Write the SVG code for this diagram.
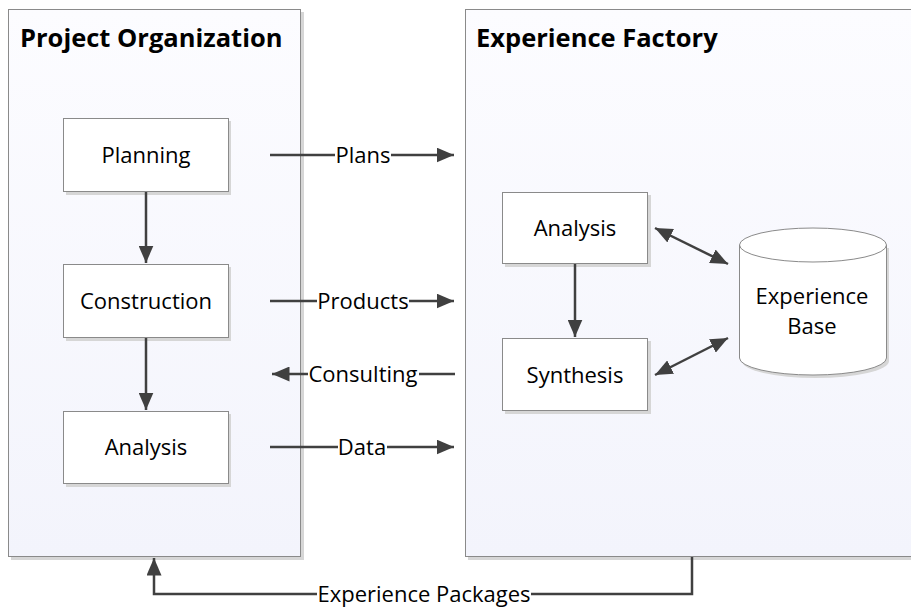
<svg xmlns="http://www.w3.org/2000/svg" width="911" height="607" viewBox="0 0 911 607">
<style>
.panel{fill:url(#pg);stroke:#8a8a8a;stroke-width:1}
.shadow{fill:#d6d6d6}
.box{fill:#ffffff;stroke:#8a8a8a;stroke-width:1}
.t{font-family:"Open Sans","Liberation Sans",sans-serif;font-size:22px;fill:#000;text-anchor:middle}
.title{font-family:"Open Sans","Liberation Sans",sans-serif;font-size:25.5px;font-weight:bold;fill:#000}
.c{stroke:#404040;stroke-width:2.5;fill:none}
.lbl{font-family:"Open Sans","Liberation Sans",sans-serif;font-size:22px;fill:#000;text-anchor:middle}
</style>
<defs>
<linearGradient id="pg" x1="0" y1="0" x2="0" y2="1">
<stop offset="0" stop-color="#fcfcff"/>
<stop offset="1" stop-color="#f3f4fc"/>
</linearGradient>
<marker id="ah" viewBox="0 0 10 10" refX="10" refY="5" markerWidth="7" markerHeight="6" markerUnits="strokeWidth" orient="auto-start-reverse" preserveAspectRatio="none">
<path d="M0,0 L10,5 L0,10 z" fill="#404040"/>
</marker>
</defs>
<rect width="911" height="607" fill="#ffffff"/>
<g id="project-organization">
<rect class="shadow" x="11" y="12" width="293" height="548"/>
<rect class="panel" x="8.5" y="9.5" width="292" height="547"/>
<text class="title" x="20" y="47">Project Organization</text>
</g>
<g id="experience-factory">
<rect class="shadow" x="468" y="12" width="450" height="548"/>
<rect class="panel" x="465.5" y="9.5" width="450" height="547"/>
<text class="title" x="476" y="47">Experience Factory</text>
</g>
<g id="planning">
<rect class="shadow" x="66" y="121" width="165" height="74"/>
<rect class="box" x="63.5" y="118.5" width="165" height="73"/>
<text class="t" x="146" y="163">Planning</text>
</g>
<g id="construction">
<rect class="shadow" x="66" y="267" width="165" height="74"/>
<rect class="box" x="63.5" y="264.5" width="165" height="73"/>
<text class="t" x="146" y="309">Construction</text>
</g>
<g id="analysis-po">
<rect class="shadow" x="66" y="414" width="165" height="73"/>
<rect class="box" x="63.5" y="411.5" width="165" height="72"/>
<text class="t" x="146" y="455">Analysis</text>
</g>
<g id="analysis-ef">
<rect class="shadow" x="505" y="195" width="146" height="72"/>
<rect class="box" x="502.5" y="192.5" width="145" height="71"/>
<text class="t" x="575" y="236">Analysis</text>
</g>
<g id="synthesis">
<rect class="shadow" x="505" y="341" width="146" height="73"/>
<rect class="box" x="502.5" y="338.5" width="145" height="72"/>
<text class="t" x="575" y="383">Synthesis</text>
</g>
<g id="experience-base">
<path d="M742,248 L742,361 A73.5,17 0 0 0 889,361 L889,248 Z" fill="#d6d6d6"/>
<path d="M739.5,245 L739.5,358 A73.5,17 0 0 0 886.5,358 L886.5,245 A73.5,17 0 0 0 739.5,245 Z" fill="#ffffff" stroke="#8a8a8a" stroke-width="1"/>
<path d="M739.5,245 A73.5,17 0 0 0 886.5,245" fill="none" stroke="#8a8a8a" stroke-width="1"/>
<text class="t" x="812" y="304">Experience</text>
<text class="t" x="812" y="334">Base</text>
</g>
<g id="connectors">
<line class="c" x1="146" y1="192" x2="146" y2="263" marker-end="url(#ah)"/>
<line class="c" x1="146" y1="338" x2="146" y2="410" marker-end="url(#ah)"/>
<line class="c" x1="575" y1="264" x2="575" y2="337" marker-end="url(#ah)"/>
<line class="c" x1="655" y1="228" x2="728" y2="264" marker-start="url(#ah)" marker-end="url(#ah)"/>
<line class="c" x1="655" y1="375" x2="728" y2="338" marker-start="url(#ah)" marker-end="url(#ah)"/>
<line class="c" x1="270" y1="155" x2="335" y2="155"/>
<line class="c" x1="391" y1="155" x2="454" y2="155" marker-end="url(#ah)"/>
<text class="lbl" x="363" y="163">Plans</text>
<line class="c" x1="270" y1="301" x2="317" y2="301"/>
<line class="c" x1="409" y1="301" x2="454" y2="301" marker-end="url(#ah)"/>
<text class="lbl" x="363" y="309">Products</text>
<line class="c" x1="455" y1="374" x2="419" y2="374"/>
<line class="c" x1="308" y1="374" x2="272" y2="374" marker-end="url(#ah)"/>
<text class="lbl" x="363" y="382">Consulting</text>
<line class="c" x1="270" y1="447" x2="338" y2="447"/>
<line class="c" x1="387" y1="447" x2="454" y2="447" marker-end="url(#ah)"/>
<text class="lbl" x="362" y="455">Data</text>
<polyline class="c" points="692,557 692,594 531,594"/>
<polyline class="c" points="317,594 154,594 154,558" marker-end="url(#ah)"/>
<text class="lbl" x="424" y="602">Experience Packages</text>
</g>
</svg>
